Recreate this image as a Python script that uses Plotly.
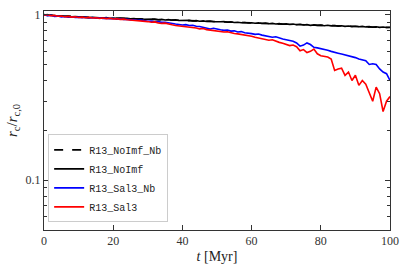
import plotly.graph_objects as go

t = list(range(0, 101))

noimf = [1.00, 0.99, 0.995, 0.985, 0.98, 0.985, 0.975, 0.98, 0.97, 0.975, 0.97,
         0.965, 0.97, 0.96, 0.965, 0.96, 0.962, 0.955, 0.96, 0.952, 0.955,
         0.95, 0.955, 0.948, 0.95, 0.944, 0.948, 0.94, 0.945, 0.938, 0.94,
         0.935, 0.94, 0.932, 0.936, 0.928, 0.933, 0.926, 0.93, 0.922, 0.925,
         0.92, 0.924, 0.916, 0.92, 0.912, 0.917, 0.91, 0.914, 0.906, 0.91,
         0.905, 0.908, 0.90, 0.904, 0.897, 0.90, 0.893, 0.897, 0.89, 0.894,
         0.888, 0.892, 0.884, 0.888, 0.881, 0.885, 0.878, 0.882, 0.875, 0.879,
         0.873, 0.877, 0.869, 0.874, 0.866, 0.87, 0.862, 0.867, 0.86, 0.864,
         0.857, 0.862, 0.855, 0.859, 0.852, 0.856, 0.85, 0.854, 0.847, 0.851,
         0.845, 0.849, 0.843, 0.846, 0.84, 0.844, 0.838, 0.842, 0.836, 0.84]

noimf_nb = [0.995, 0.992, 0.99, 0.988, 0.984, 0.98, 0.978, 0.976, 0.974, 0.97, 0.968,
            0.968, 0.964, 0.962, 0.962, 0.958, 0.958, 0.956, 0.955, 0.954, 0.952,
            0.952, 0.95, 0.946, 0.946, 0.946, 0.944, 0.942, 0.94, 0.94, 0.938,
            0.937, 0.935, 0.934, 0.932, 0.931, 0.93, 0.928, 0.927, 0.925, 0.923,
            0.922, 0.92, 0.918, 0.917, 0.915, 0.913, 0.912, 0.91, 0.909, 0.907,
            0.906, 0.904, 0.903, 0.901, 0.899, 0.898, 0.896, 0.894, 0.893, 0.891,
            0.89, 0.888, 0.887, 0.885, 0.884, 0.882, 0.88, 0.879, 0.877, 0.876,
            0.875, 0.873, 0.872, 0.87, 0.869, 0.867, 0.866, 0.864, 0.863, 0.861,
            0.86, 0.858, 0.857, 0.856, 0.854, 0.853, 0.852, 0.85, 0.849, 0.848,
            0.847, 0.846, 0.845, 0.843, 0.842, 0.841, 0.84, 0.839, 0.838, 0.837]

sal3_nb = [1.0, 0.985, 0.99, 0.975, 0.98, 0.97, 0.975, 0.965, 0.97, 0.962, 0.966,
           0.958, 0.964, 0.955, 0.96, 0.952, 0.957, 0.948, 0.952, 0.944, 0.947,
           0.94, 0.944, 0.935, 0.938, 0.93, 0.932, 0.924, 0.927, 0.918, 0.912,
           0.915, 0.905, 0.908, 0.898, 0.90, 0.89, 0.885, 0.878, 0.872, 0.866,
           0.87, 0.86, 0.862, 0.85, 0.848, 0.838, 0.832, 0.82, 0.828, 0.815,
           0.81, 0.804, 0.808, 0.795, 0.798, 0.785, 0.79, 0.778, 0.775, 0.768,
           0.76, 0.764, 0.752, 0.745, 0.74, 0.73, 0.735, 0.72, 0.712, 0.705,
           0.70, 0.69, 0.675, 0.645, 0.655, 0.675, 0.66, 0.635, 0.63, 0.625,
           0.62, 0.61, 0.60, 0.59, 0.585, 0.578, 0.572, 0.565, 0.56, 0.55,
           0.54, 0.535, 0.527, 0.50, 0.505, 0.50, 0.47, 0.45, 0.44, 0.40]

sal3 = [0.995, 1.0, 0.985, 0.99, 0.978, 0.982, 0.972, 0.976, 0.966, 0.97, 0.962,
        0.966, 0.958, 0.962, 0.954, 0.958, 0.95, 0.954, 0.946, 0.95, 0.942,
        0.945, 0.936, 0.94, 0.932, 0.928, 0.93, 0.92, 0.924, 0.912, 0.908,
        0.90, 0.904, 0.892, 0.885, 0.888, 0.875, 0.868, 0.86, 0.855, 0.85,
        0.852, 0.84, 0.836, 0.83, 0.82, 0.825, 0.812, 0.805, 0.80, 0.795,
        0.79, 0.785, 0.788, 0.775, 0.77, 0.765, 0.76, 0.755, 0.745, 0.74,
        0.73, 0.722, 0.715, 0.71, 0.70, 0.705, 0.69, 0.68, 0.672, 0.66,
        0.65, 0.655, 0.64, 0.605, 0.615, 0.59, 0.60, 0.62, 0.58, 0.565,
        0.56, 0.555, 0.54, 0.46, 0.47, 0.475, 0.43, 0.45, 0.40, 0.43,
        0.374, 0.40, 0.38, 0.34, 0.30, 0.365, 0.333, 0.26, 0.30, 0.32]

x_ticks = [0, 20, 40, 60, 80, 100]
y_ticks = [0.1, 1]
y_ticklabels = ["0.1", "1"]
y_minor = [0.05, 0.06, 0.07, 0.08, 0.09, 0.2, 0.3, 0.4, 0.5, 0.6, 0.7, 0.8, 0.9]

series = [
    ("R13_NoImf_Nb", noimf_nb, "black", "dash"),
    ("R13_NoImf", noimf, "black", "solid"),
    ("R13_Sal3_Nb", sal3_nb, "blue", "solid"),
    ("R13_Sal3", sal3, "red", "solid"),
]

fig = go.Figure()
for name, vals, col, dash in series:
    fig.add_trace(go.Scatter(x=t, y=vals, mode="lines", name=name,
                             line=dict(color=col, width=1.6, dash=dash)))

serif = "Liberation Serif, DejaVu Serif, serif"
axis_common = dict(showline=True, linecolor="#333", linewidth=1, mirror="ticks",
                   ticks="inside", tickcolor="#333", showgrid=False, zeroline=False,
                   tickfont=dict(family=serif, size=12, color="#333"))

fig.update_layout(
    width=407, height=270,
    margin=dict(l=44, r=17, t=8, b=40),
    paper_bgcolor="white", plot_bgcolor="white",
    font=dict(family=serif, color="#222"),
    xaxis=dict(range=[0, 100], tickvals=x_ticks, ticklen=5,
               title=dict(text="<i>t</i> [Myr]", font=dict(family=serif, size=14), standoff=3),
               **axis_common),
    yaxis=dict(type="log", range=[-1.301, 0.022], tickvals=y_ticks, ticktext=y_ticklabels,
               ticklen=5,
               minor=dict(tickvals=y_minor, ticks="inside", ticklen=3, tickcolor="#333"),
               title=dict(text="<i>r</i><sub>c</sub>/<i>r</i><sub>c,0</sub>",
                          font=dict(family=serif, size=15), standoff=4),
               **axis_common),
    legend=dict(x=0.012, y=0.035, xanchor="left", yanchor="bottom",
                bgcolor="rgba(255,255,255,0.85)", bordercolor="#ccc", borderwidth=1,
                font=dict(family="Liberation Mono, DejaVu Sans Mono, monospace", size=10, color="#222"),
                tracegroupgap=0, itemwidth=30),
    showlegend=True,
)

fig.write_html("out.html", config={"displayModeBar": False},
               post_script="document.body.style.margin='0';document.body.style.overflow='hidden';")
